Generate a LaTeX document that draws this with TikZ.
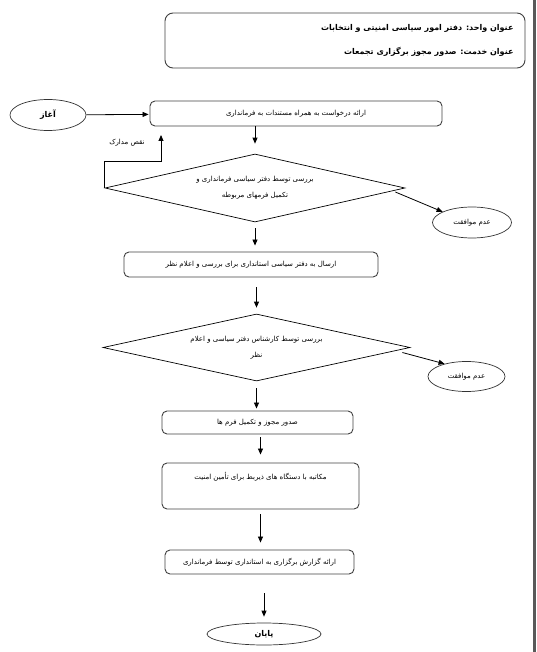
\documentclass[tikz,border=0pt]{standalone}
\usepackage{fontspec}
\usetikzlibrary{shapes.geometric, arrows.meta, positioning}
\newfontfamily\farsi[Script=Arabic]{DejaVu Sans}
\TeXXeTstate=1
\newcommand{\fa}[1]{\beginR #1\endR}

\begin{document}
\begin{tikzpicture}[x=1pt, y=-1pt,
    rect node/.style={rectangle, rounded corners=5pt, draw=black!75, line width=0.9pt, inner sep=2pt, font=\farsi\fontsize{7}{9}\selectfont},
    ellipse node/.style={ellipse, draw=black!80, line width=0.7pt, inner sep=0pt, font=\farsi\fontsize{7}{9}\selectfont},
    diamond node/.style={diamond, draw, line width=0.7pt, aspect=4.5, inner sep=0pt, align=center, font=\farsi\fontsize{7}{16}\selectfont},
    arrow/.style={-{Triangle[length=6pt, width=5pt]}, line width=0.8pt}
    ]

    \useasboundingbox (0,0) rectangle (536,652);

    % page edge
    \draw[line width=2.5pt, black!65] (534.5,0) -- (534.5,652);

    % header
    \node[rect node, rounded corners=8pt, minimum width=360pt, minimum height=55pt] (head) at (345,40.5) {};
    \node[anchor=east, font=\farsi\bfseries\fontsize{8}{10}\selectfont] (unit) at (517,28) {\fa{عنوان واحد: دفتر امور سیاسی امنیتی و انتخابات}};
    \node[anchor=east, font=\farsi\bfseries\fontsize{8}{10}\selectfont] (service) at (517,52) {\fa{عنوان خدمت: صدور مجوز برگزاری تجمعات}};

    % start
    \node[ellipse node, minimum width=76pt, minimum height=31pt, font=\farsi\bfseries\fontsize{8}{10}\selectfont] (start) at (48,115) {\fa{آغاز}};
    \node[rect node, minimum width=292pt, minimum height=25pt] (box1) at (296,113.5) {\fa{ارائه درخواست به همراه مستندات به فرمانداری}};

    % first check
    \node[diamond node, minimum width=300pt, minimum height=68pt] (dia1) at (255,188) {\fa{بررسی توسط دفتر سیاسی فرمانداری و}\\\fa{تکمیل فرمهای مربوطه}};
    \node[ellipse node, minimum width=79pt, minimum height=31pt] (rej1) at (472,222.5) {\fa{عدم موافقت}};
    \coordinate (lack) at (161,135);
    \node[font=\farsi\fontsize{7}{9}\selectfont] (lacklabel) at (127,143) {\fa{نقص مدارک}};

    \node[rect node, minimum width=254pt, minimum height=25pt] (box2) at (251,264.5) {\fa{ارسال به دفتر سیاسی استانداری برای بررسی  و اعلام نظر}};

    % second check
    \node[diamond node, minimum width=307pt, minimum height=67pt] (dia2) at (256.5,347.5) {\fa{بررسی توسط کارشناس دفتر سیاسی  و اعلام}\\\fa{نظر}};
    \node[ellipse node, minimum width=77pt, minimum height=30pt] (rej2) at (466.5,376.5) {\fa{عدم موافقت}};

    \node[rect node, minimum width=191pt, minimum height=23pt] (box3) at (257.5,422.5) {\fa{صدور مجوز و تکمیل فرم ها}};
    \node[rect node, minimum width=197pt, minimum height=46pt, align=center] (box4) at (260.5,486) {\fa{مکاتبه با دستگاه های ذیربط برای تأمین امنیت}\\[12pt]\mbox{}};
    \node[rect node, minimum width=189pt, minimum height=24pt] (box5) at (259.5,562) {\fa{ارائه گزارش برگزاری به استانداری توسط فرمانداری}};

    % end
    \node[ellipse node, minimum width=114pt, minimum height=22pt, font=\farsi\bfseries\fontsize{8}{10}\selectfont] (end) at (264,634) {\fa{پایان}};

    % arrows
    \draw[arrow, shorten >=1pt] (start) -- (box1);
    \draw[arrow, shorten >=10pt] (dia1.north |- box1.south) -- (dia1.north);
    \draw[arrow] (dia1.west) -- ++(0,-27) -| (lack);
    \draw[arrow] ([xshift=-10pt, yshift=-4pt]dia1.east) -- (rej1.160);
    \draw[arrow, shorten <=6pt, shorten >=6pt] (dia1.south) -- (dia1.south |- box2.north);
    \draw[arrow, shorten <=10pt, shorten >=6pt] (dia2.north |- box2.south) -- (dia2.north);
    \draw[arrow] ([xshift=-8pt, yshift=-5pt]dia2.east) -- (rej2.150);
    \draw[arrow, shorten <=7pt, shorten >=2pt] (dia2.south) -- (dia2.south |- box3.north);
    \draw[arrow, shorten <=3pt, shorten >=8pt] (box4.north |- box3.south) -- (box4.north);
    \draw[arrow, shorten <=5pt, shorten >=7pt] (box4.south) -- (box4.south |- box5.north);
    \draw[arrow, shorten <=19pt, shorten >=6pt] (end.north |- box5.south) -- (end.north);

\end{tikzpicture}
\end{document}
